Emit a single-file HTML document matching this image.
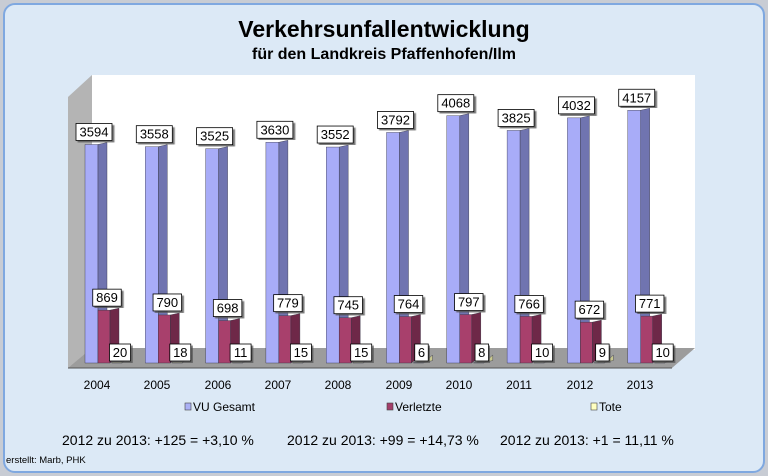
<!DOCTYPE html>
<html><head><meta charset="utf-8"><style>
body{margin:0;width:768px;height:476px;background:#c8ccd4;overflow:hidden;font-family:"Liberation Sans",sans-serif}
#f{position:absolute;left:3px;top:3px;width:758px;height:466px;border:2px solid #7fa8e0;border-radius:12px;background:#dce9f6}
</style></head><body>
<div id="f"></div>
<svg width="768" height="476" style="position:absolute;left:0;top:0" font-family="Liberation Sans, sans-serif">
<defs><filter id="s"><feDropShadow dx="2" dy="2" stdDeviation="0.6" flood-color="#555" flood-opacity="0.8"/></filter></defs>
<text x="384" y="37" text-anchor="middle" font-size="23" font-weight="bold">Verkehrsunfallentwicklung</text>
<text x="384" y="59" text-anchor="middle" font-size="16" font-weight="bold">für den Landkreis Pfaffenhofen/Ilm</text>
<polygon points="92,75 695,75 695,350 92,350" fill="#fff"/>
<polygon points="68,97 92,75 92,350 68,368" fill="#b4b4b4"/>
<polygon points="68,368 672,368 695,348 92,348" fill="#9c9c9c"/>
<line x1="68" y1="368" x2="672" y2="368" stroke="#555"/>
<g id="bars"></g>
<g font-size="12" text-anchor="middle">
<text x="97" y="389">2004</text><text x="157" y="389">2005</text><text x="218" y="389">2006</text><text x="278" y="389">2007</text><text x="338" y="389">2008</text><text x="399" y="389">2009</text><text x="459" y="389">2010</text><text x="519" y="389">2011</text><text x="580" y="389">2012</text><text x="640" y="389">2013</text>
</g>
<g font-size="12">
<rect x="185" y="403" width="6" height="7" fill="#aab0f5" stroke="#444" stroke-width="0.6"/><text x="193" y="411">VU Gesamt</text>
<rect x="387" y="403" width="6" height="7" fill="#a33e6a" stroke="#444" stroke-width="0.6"/><text x="395" y="411">Verletzte</text>
<rect x="591" y="403" width="6" height="7" fill="#ffffc0" stroke="#444" stroke-width="0.6"/><text x="599" y="411">Tote</text>
</g>
<g font-size="14"><text x="62" y="445">2012 zu 2013:  +125 = +3,10 %</text><text x="287" y="445">2012 zu 2013:  +99 = +14,73 %</text><text x="500" y="445">2012 zu 2013:  +1 = 11,11 %</text></g>
<text x="6" y="463" font-size="9.5">erstellt: Marb, PHK</text>
</svg>
<script>
var vu=[3594,3558,3525,3630,3552,3792,4068,3825,4032,4157],ve=[869,790,698,779,745,764,797,766,672,771],to=[20,18,11,15,15,6,8,10,9,10];
var g=document.getElementById('bars'),h='',k=0.0608,B=363;
function bar(x,w,v,c1,c2){var t=B-v*k;return '<rect x="'+x+'" y="'+t+'" width="'+w+'" height="'+(B-t)+'" fill="'+c1+'" stroke="#334" stroke-width="0.4"/><polygon points="'+(x+w)+','+t+' '+(x+w+9)+','+(t-2)+' '+(x+w+9)+','+(B-8)+' '+(x+w)+','+B+'" fill="'+c2+'" stroke="#334" stroke-width="0.4"/>';}
function lab(cx,y,s){var w=s.length*7.5+6;return '<rect x="'+(cx-w/2)+'" y="'+(y-16)+'" width="'+w+'" height="17" fill="#fff" stroke="#000" stroke-width="0.8" filter="url(#s)"/><text x="'+cx+'" y="'+(y-3)+'" font-size="13" text-anchor="middle">'+s+'</text>';}
for(var i=0;i<10;i++){var x=85+i*60.3;
h+=bar(x,13,vu[i],'#a8acf8','#7074b0');
h+=bar(x+13,12,ve[i],'#a8406c','#6e2848');
h+=bar(x+27,10,to[i],'#ffffc8','#c8c890');
h+=lab(x+9,B-vu[i]*k-5,''+vu[i]);
h+=lab(x+22,B-ve[i]*k-5,''+ve[i]);
h+=lab(x+35,B-3,''+to[i]);}
g.innerHTML=h;
</script>
</body></html>
